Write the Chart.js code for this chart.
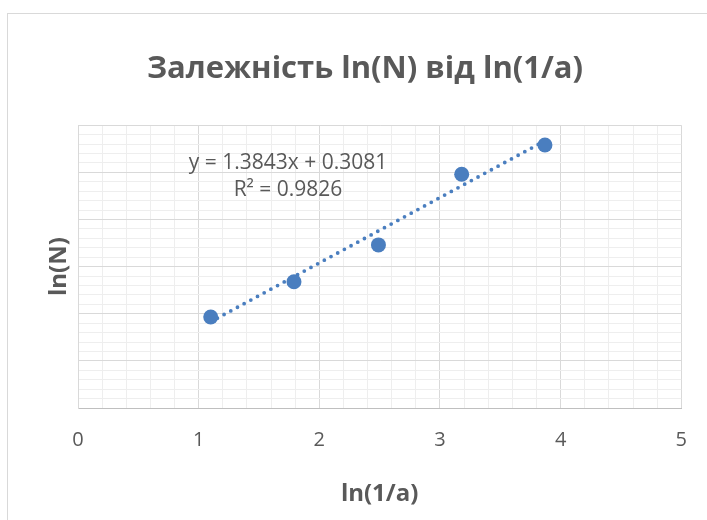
<!DOCTYPE html>
<html lang="uk">
<head>
<meta charset="utf-8">
<title>Залежність ln(N) від ln(1/a)</title>
<script src="https://cdn.jsdelivr.net/npm/chart.js@4.4.1/dist/chart.umd.min.js"></script>
<style>
  html, body { margin: 0; padding: 0; background: #fff; overflow: hidden; }
  #frame {
    position: absolute; left: 7px; top: 13px;
    width: 800px; height: 600px;
    border: 1px solid #d9d9d9;
  }
  #chart { position: absolute; left: 0; top: 0; }
</style>
</head>
<body>
<div id="frame"></div>
<canvas id="chart" width="707" height="520"></canvas>
<script>
  // Values
  const lnInvA = [1.10, 1.79, 2.49, 3.18, 3.87];
  const lnN = [1.93, 2.68, 3.46, 4.96, 5.58];

  // Linear trendline ends (as drawn by the spreadsheet)
  const trendX = [1.10, 3.87];
  const trendY = [1.83, 5.67];
  const trendLabel = ["y = 1.3843x + 0.3081", "R² = 0.9826"];

  const xTickLabels = ["0", "1", "2", "3", "4", "5"];

  const BLUE = "#4a7ebf";
  const TEXT = "#595959";
  const FONT = "'Open Sans', 'DejaVu Sans', sans-serif";

  const isMajor = (v) => Math.abs(v - Math.round(v)) < 1e-6;
  const gridColor = (ctx) => (isMajor(ctx.tick.value) ? "#d9d9d9" : "#eeeeee");

  // Equation + R² text placed like the Excel trendline label
  const trendLabelPlugin = {
    id: "trendLabel",
    afterDatasetsDraw(chart) {
      const { ctx, chartArea } = chart;
      const cx = chartArea.left + 210;
      ctx.save();
      ctx.fillStyle = TEXT;
      ctx.font = "21px " + FONT;
      ctx.textAlign = "center";
      ctx.textBaseline = "middle";
      ctx.fillText(trendLabel[0], cx, chartArea.top + 38);
      ctx.fillText(trendLabel[1], cx, chartArea.top + 65);
      ctx.restore();
    },
  };

  new Chart(document.getElementById("chart"), {
    type: "scatter",
    data: {
      datasets: [
        {
          label: "ln(N)",
          data: lnInvA.map((x, i) => ({ x, y: lnN[i] })),
          backgroundColor: BLUE,
          borderColor: BLUE,
          pointRadius: 7.5,
          pointBorderWidth: 0,
          showLine: false,
        },
        {
          label: "Лінійна",
          data: trendX.map((x, i) => ({ x, y: trendY[i] })),
          borderColor: BLUE,
          borderWidth: 3.8,
          borderDash: [0, 7.6],
          borderCapStyle: "round",
          pointRadius: 0,
          showLine: true,
          fill: false,
        },
      ],
    },
    options: {
      responsive: false,
      animation: false,
      events: [],
      layout: { padding: { left: 45, right: 22, top: 14, bottom: 0 } },
      plugins: {
        legend: { display: false },
        tooltip: { enabled: false },
        title: {
          display: true,
          text: "Залежність ln(N) від ln(1/a)",
          color: TEXT,
          font: { family: FONT, size: 31, weight: "bold" },
          padding: { top: 37, bottom: 37 },
        },
      },
      scales: {
        x: {
          type: "linear",
          min: 0,
          max: 5,
          ticks: {
            stepSize: 0.2,
            autoSkip: false,
            maxRotation: 0,
            padding: 20,
            color: TEXT,
            font: { family: FONT, size: 20 },
            callback: (v) => (isMajor(v) ? xTickLabels[Math.round(v)] : ""),
          },
          grid: { color: gridColor, drawTicks: false },
          border: { color: "#bfbfbf", width: 1 },
          title: {
            display: true,
            text: "ln(1/a)",
            color: TEXT,
            font: { family: FONT, size: 24, weight: "bold" },
            padding: { top: 0, bottom: 11 },
          },
          afterFit: (scale) => { scale.height = 112; },
        },
        y: {
          type: "linear",
          min: 0,
          max: 6,
          ticks: { stepSize: 0.2, display: false },
          grid: { color: gridColor, drawTicks: false },
          border: { color: "#d9d9d9", width: 1 },
          title: {
            display: true,
            text: "ln(N)",
            color: TEXT,
            font: { family: FONT, size: 24, weight: "bold" },
            padding: { top: 0, bottom: 0 },
          },
          afterFit: (scale) => { scale.width = 33; },
        },
      },
    },
    plugins: [trendLabelPlugin],
  });
</script>
</body>
</html>
